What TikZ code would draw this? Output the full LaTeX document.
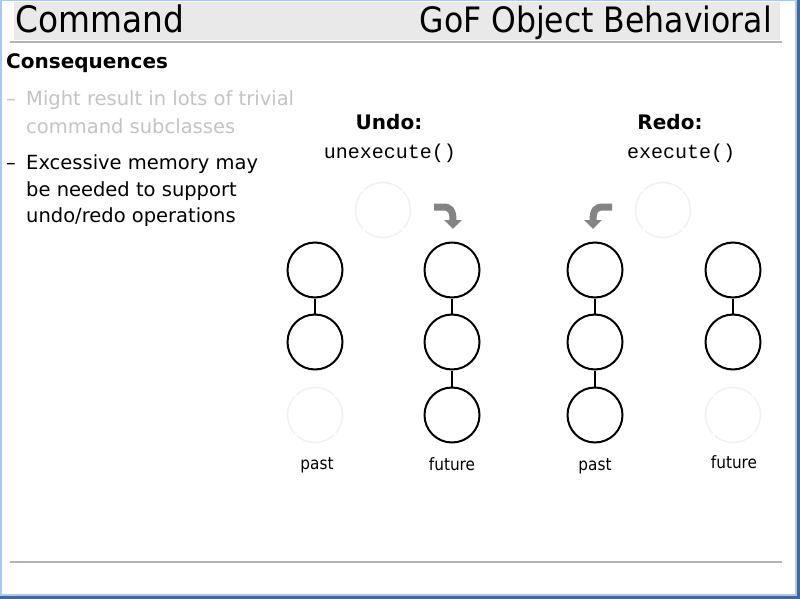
\documentclass[tikz,border=0pt]{standalone}
\usepackage{fontspec}
\setmainfont{DejaVu Sans}
\newfontfamily\titlefont{DejaVu Sans Condensed}
\newfontfamily\codefont{Liberation Mono}
\usetikzlibrary{arrows.meta}
\definecolor{winlight}{HTML}{A9C9F2}
\definecolor{windark}{HTML}{3A6AA6}
\definecolor{barfill}{HTML}{E9E9E9}
\definecolor{rulegray}{HTML}{B4B4B4}
\definecolor{dimtext}{HTML}{C4C4C4}
\definecolor{ghost}{HTML}{F1F1F1}
\definecolor{bendgray}{HTML}{848484}
\tikzset{
  x=1pt, y=-1pt,
  ring/.style={circle, draw=black, line width=2pt, minimum size=55pt, inner sep=0pt},
  ghostring/.style={circle, draw=ghost, line width=1.5pt, minimum size=55pt, inner sep=0pt,
    dash pattern=on 41pt off 2.5pt, dash phase=21pt},
  link/.style={line width=2pt},
  bentarrow/.style={draw=bendgray, line width=7pt, -{Triangle[width=17pt,length=9pt]}},
  steplabel/.style={font=\fontsize{17}{19}\selectfont\titlefont},
  bullet/.style={anchor=base west, inner sep=0pt, font=\fontsize{19.5}{22}\selectfont},
  heading/.style={anchor=base, font=\fontsize{20}{22}\selectfont\bfseries},
  code/.style={anchor=base, font=\fontsize{20}{22}\selectfont\codefont},
}
\begin{document}
\begin{tikzpicture}
\useasboundingbox (0,0) rectangle (800,599);
% window frame and page
\fill[windark] (0,0) rectangle (800,599);
\fill[winlight] (0,0) rectangle (797,596);
\fill[white] (2,1) rectangle (795,594);

% title bar
\fill[barfill] (14,2) rectangle (780,40);
\draw[rulegray, line width=2pt] (10,42) -- (782,42);
\node[anchor=base west, inner sep=0pt, font=\fontsize{36.5}{40}\selectfont\titlefont] (title) at (15,33) {Command};
\node[anchor=base east, inner sep=0pt, font=\fontsize{35}{40}\selectfont\titlefont] (family) at (772,33) {GoF Object Behavioral};

% footer rule
\draw[rulegray, line width=2pt] (10,562) -- (782,562);

% text column
\node[bullet, font=\fontsize{20}{22}\selectfont\bfseries] (head) at (6,69) {Consequences};
\node[bullet, text=dimtext] (d1) at (6,106) {–};
\node[bullet, text=dimtext] (b1a) at (26,106) {Might result in lots of trivial};
\node[bullet, text=dimtext] (b1b) at (26,133) {command subclasses};
\node[bullet] (d2) at (6,169) {–};
\node[bullet] (b2a) at (26,169) {Excessive memory may};
\node[bullet] (b2b) at (26,196) {be needed to support};
\node[bullet] (b2c) at (26,222) {undo/redo operations};

% headings
\node[heading] (undo) at (389,129) {Undo:};
\node[heading] (redo) at (670,129) {Redo:};
\node[code] (unexec) at (390,158) {unexecute()};
\node[code] (exec) at (681,158) {execute()};

% undo: past stack
\node[ring] (ua1) at (315,270) {};
\node[ring] (ua2) at (315,342) {};
\node[ghostring] (ua3) at (315,415) {};
\draw[link] (ua1) -- (ua2);
% undo: future stack
\node[ghostring] (ub0) at (383,210) {};
\node[ring] (ub1) at (452,270) {};
\node[ring] (ub2) at (452,342) {};
\node[ring] (ub3) at (452,415) {};
\draw[link] (ub1) -- (ub2);
\draw[link] (ub2) -- (ub3);
% redo: past stack
\node[ring] (ra1) at (595,270) {};
\node[ring] (ra2) at (595,342) {};
\node[ring] (ra3) at (595,415) {};
\draw[link] (ra1) -- (ra2);
\draw[link] (ra2) -- (ra3);
% redo: future stack
\node[ghostring] (rb0) at (663,210) {};
\node[ring] (rb1) at (733,270) {};
\node[ring] (rb2) at (733,342) {};
\node[ghostring] (rb3) at (733,415) {};
\draw[link] (rb1) -- (rb2);

% bent arrows
\coordinate (uarr) at (434,207);
\coordinate (uend) at (453,229);
\draw[bentarrow] (uarr) -- (443,207) .. controls (450,207) and (453,210) .. (uend);
\coordinate (rarr) at (612,207);
\coordinate (rend) at (593,229);
\draw[bentarrow] (rarr) -- (603,207) .. controls (596,207) and (593,210) .. (rend);

% stack labels
\node[steplabel, anchor=base] (lp1) at (317,469) {past};
\node[steplabel, anchor=base] (lf1) at (452,470) {future};
\node[steplabel, anchor=base] (lp2) at (595,470) {past};
\node[steplabel, anchor=base] (lf2) at (734,468) {future};
\end{tikzpicture}
\end{document}
